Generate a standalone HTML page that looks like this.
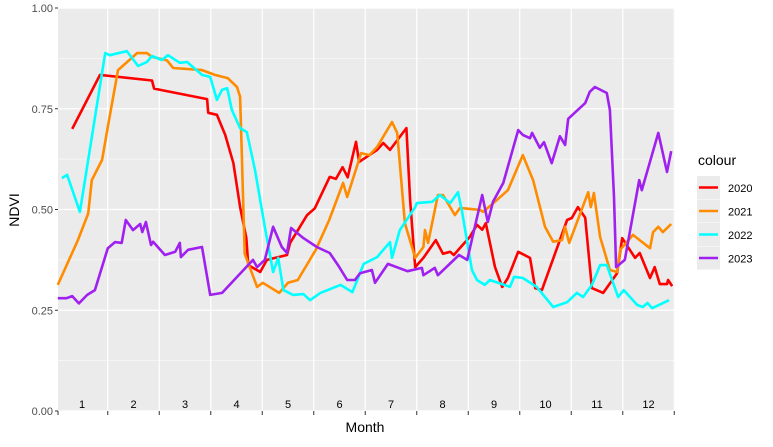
<!DOCTYPE html>
<html><head><meta charset="utf-8"><style>
body{margin:0;background:#fff;font-family:"Liberation Sans",Arial,sans-serif}
svg text{font-family:"Liberation Sans",Arial,sans-serif}
</style></head><body>
<svg id="chart" width="773" height="442" viewBox="0 0 773 442" xmlns="http://www.w3.org/2000/svg">
<rect x="0" y="0" width="773" height="442" fill="#fff"/>
<rect x="58" y="8" width="617" height="403" fill="#EBEBEB"/>
<g id="grid"></g>
<g id="series"></g>
<g id="axes"></g>
<text x="365" y="432" font-size="14" text-anchor="middle" fill="#000">Month</text>
<text x="0" y="0" font-size="14" text-anchor="middle" fill="#000" transform="translate(19,210) rotate(-90)">NDVI</text>
<g id="legend"></g>
</svg>
<script>
const monthLabels=["1","2","3","4","5","6","7","8","9","10","11","12"];
const yTicks=[0,0.25,0.5,0.75,1];
const yTickLabels=["0.00","0.25","0.50","0.75","1.00"];
const seriesNames=["2020","2021","2022","2023"];
const seriesColors=["#FF0000","#FF8C00","#00FFFF","#A020F0"];
const s2020=[[0.81,.70],[1.35,.834],[1.64,.83],[2.36,.82],[2.40,.80],[3.43,.774],[3.45,.74],[3.62,.735],[3.78,.685],[3.94,.615],[4.07,.506],[4.19,.43],[4.23,.362],[4.46,.345],[4.59,.375],[4.98,.387],[5.04,.417],[5.37,.486],[5.52,.503],[5.81,.581],[5.93,.576],[6.06,.605],[6.16,.58],[6.32,.668],[6.38,.618],[6.73,.648],[6.85,.665],[6.98,.648],[7.30,.702],[7.37,.524],[7.47,.357],[7.63,.38],[7.87,.424],[8.01,.39],[8.15,.395],[8.22,.387],[8.53,.432],[8.67,.462],[8.77,.45],[8.84,.466],[9.02,.357],[9.16,.308],[9.27,.33],[9.47,.395],[9.70,.38],[9.80,.305],[9.93,.30],[10.42,.474],[10.51,.479],[10.63,.506],[10.77,.48],[10.90,.305],[11.12,.293],[11.39,.342],[11.49,.429],[11.58,.411],[11.74,.38],[11.83,.392],[12.03,.33],[12.12,.357],[12.22,.315],[12.36,.315],[12.38,.325],[12.46,.31]];
const s2021=[[0.53,.313],[0.92,.424],[1.12,.49],[1.19,.573],[1.39,.623],[1.50,.705],[1.70,.846],[2.07,.888],[2.26,.888],[2.36,.879],[2.65,.87],[2.77,.851],[3.33,.846],[3.58,.834],[3.83,.826],[4.01,.804],[4.07,.78],[4.10,.655],[4.16,.39],[4.40,.308],[4.51,.318],[4.83,.293],[5.0,.318],[5.19,.325],[5.54,.40],[5.80,.474],[6.07,.566],[6.15,.531],[6.42,.64],[6.58,.635],[6.73,.655],[7.02,.717],[7.12,.69],[7.27,.466],[7.47,.38],[7.63,.407],[7.66,.449],[7.72,.417],[7.91,.536],[8.01,.536],[8.24,.486],[8.34,.504],[8.73,.499],[8.79,.494],[9.06,.524],[9.27,.548],[9.56,.635],[9.76,.573],[9.99,.457],[10.15,.42],[10.32,.424],[10.38,.457],[10.46,.417],[10.83,.543],[10.88,.506],[10.94,.541],[11.06,.432],[11.25,.35],[11.39,.345],[11.45,.40],[11.70,.437],[12.03,.404],[12.09,.444],[12.19,.457],[12.28,.444],[12.44,.464]];
const s2022=[[0.61,.578],[0.71,.586],[0.96,.494],[1.12,.623],[1.45,.888],[1.54,.883],[1.87,.893],[2.09,.856],[2.26,.866],[2.36,.881],[2.55,.871],[2.67,.883],[2.90,.864],[3.04,.866],[3.33,.834],[3.49,.829],[3.62,.772],[3.72,.797],[3.82,.801],[3.91,.747],[4.07,.702],[4.20,.692],[4.36,.598],[4.55,.457],[4.71,.345],[4.81,.38],[4.91,.30],[5.10,.288],[5.30,.29],[5.43,.275],[5.63,.293],[6.02,.313],[6.25,.295],[6.47,.365],[6.73,.382],[6.98,.419],[7.02,.38],[7.17,.449],[7.47,.506],[7.50,.516],[7.80,.519],[7.95,.536],[8.15,.516],[8.30,.543],[8.38,.494],[8.57,.35],[8.67,.325],[8.82,.313],[8.92,.325],[9.31,.308],[9.39,.333],[9.56,.33],[9.83,.308],[10.15,.258],[10.42,.27],[10.61,.293],[10.73,.283],[10.90,.313],[11.06,.362],[11.19,.362],[11.41,.283],[11.52,.30],[11.78,.263],[11.89,.258],[11.98,.268],[12.07,.255],[12.40,.275]];
const s2023=[[0.53,.28],[0.70,.28],[0.81,.285],[0.94,.267],[1.10,.288],[1.25,.30],[1.50,.404],[1.64,.419],[1.77,.417],[1.85,.474],[1.99,.449],[2.13,.464],[2.17,.444],[2.24,.469],[2.34,.412],[2.38,.42],[2.61,.387],[2.81,.395],[2.90,.417],[2.92,.382],[3.06,.40],[3.33,.407],[3.49,.288],[3.72,.293],[4.32,.375],[4.40,.357],[4.55,.375],[4.71,.457],[4.88,.407],[4.98,.392],[5.06,.454],[5.30,.429],[5.56,.407],[5.81,.392],[5.97,.362],[6.15,.325],[6.30,.325],[6.40,.342],[6.63,.35],[6.69,.318],[6.94,.365],[7.32,.347],[7.60,.355],[7.63,.337],[7.85,.355],[7.91,.337],[8.32,.387],[8.48,.375],[8.77,.536],[8.88,.469],[8.98,.519],[9.18,.566],[9.47,.697],[9.56,.685],[9.70,.677],[9.74,.69],[9.89,.653],[9.97,.667],[10.12,.615],[10.28,.682],[10.38,.66],[10.44,.725],[10.77,.764],[10.86,.792],[10.96,.804],[11.19,.789],[11.25,.747],[11.33,.531],[11.37,.357],[11.54,.375],[11.82,.573],[11.87,.548],[12.19,.69],[12.36,.593],[12.44,.645]];
const allSeries=[s2020,s2021,s2022,s2023];

const NS="http://www.w3.org/2000/svg";
const X0=58,X1=675,Y0=8,Y1=411;
function xScale(m){return 82+(m-1)*51.5;}
function yScale(v){return Y1-v*(Y1-Y0);}
function mk(tag,attrs,parent){const e=document.createElementNS(NS,tag);for(const k in attrs)e.setAttribute(k,attrs[k]);parent.appendChild(e);return e;}
const grid=document.getElementById('grid'),series=document.getElementById('series'),axes=document.getElementById('axes'),legend=document.getElementById('legend');
// minor y gridlines
for(let i=0;i<yTicks.length-1;i++){const v=(yTicks[i]+yTicks[i+1])/2;
 const l=mk('line',{x1:X0,x2:X1,y1:yScale(v),y2:yScale(v),stroke:'#fff','stroke-width':0.6},grid);
 }
yTicks.forEach((v,i)=>{
 const l=mk('line',{x1:X0,x2:X1,y1:yScale(v),y2:yScale(v),stroke:'#fff','stroke-width':1.2},grid);
 
 const t=mk('line',{x1:X0-3,x2:X0,y1:yScale(v),y2:yScale(v),stroke:'#333','stroke-width':1},axes);
 
 const tx=mk('text',{x:X0-5,y:yScale(v)+4,'font-size':11,'text-anchor':'end',fill:'#4D4D4D'},axes);
 tx.textContent=yTickLabels[i];
 
});
for(let k=0;k<=monthLabels.length;k++){const x=xScale(k+0.5);if(x<X0-1||x>X1+1)continue;
 const l=mk('line',{x1:x,x2:x,y1:Y0,y2:Y1,stroke:'#fff','stroke-width':1.2},grid);
 
 const t=mk('line',{x1:x,x2:x,y1:Y1,y2:Y1+4,stroke:'#333','stroke-width':1},axes);
 }
{const t=mk('line',{x1:X0,x2:X0,y1:Y1,y2:Y1+4,stroke:'#333','stroke-width':1},axes);
 }
monthLabels.forEach((m,i)=>{
 const tx=mk('text',{x:xScale(i+1),y:408,'font-size':11,'text-anchor':'middle',fill:'#000'},axes);
 tx.textContent=m;
 
});
allSeries.forEach((s,i)=>{
 const d=s.map((p,j)=>(j?'L':'M')+xScale(p[0]).toFixed(1)+','+yScale(p[1]).toFixed(1)).join('');
 const p=mk('path',{d:d,fill:'none',stroke:seriesColors[i],'stroke-width':2.6,'stroke-linejoin':'round'},series);
 
});
{const t=mk('text',{x:698,y:165,'font-size':14,fill:'#000'},legend);t.textContent='colour';
 }
seriesNames.forEach((n,i)=>{
 const y=176+i*23.5;
 const g=mk('g',{},legend);
 
 mk('rect',{x:697,y:y,width:23,height:23,fill:'#EBEBEB'},g);
 mk('line',{x1:699,x2:718,y1:y+11.5,y2:y+11.5,stroke:seriesColors[i],'stroke-width':2.6},g);
 const t=mk('text',{x:728,y:y+16,'font-size':11,fill:'#000'},g);t.textContent=n;
});
</script>
</body></html>
